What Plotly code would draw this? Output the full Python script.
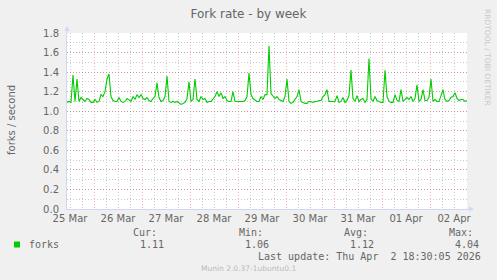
import pandas as pd
import plotly.graph_objects as go

# ---- data (forks per second, hourly readings) ----
start_time = "2026-03-25 10:30"
forks = [
    1.09, 1.10, 1.09, 1.37, 1.10, 1.33, 1.10, 1.14, 1.12, 1.10,
    1.13, 1.12, 1.09, 1.09, 1.12, 1.09, 1.10, 1.17, 1.15, 1.20,
    1.33, 1.38, 1.15, 1.11, 1.10, 1.10, 1.14, 1.10, 1.09, 1.10,
    1.13, 1.11, 1.10, 1.15, 1.12, 1.17, 1.14, 1.17, 1.13, 1.12,
    1.14, 1.11, 1.10, 1.13, 1.15, 1.29, 1.14, 1.10, 1.11, 1.15,
    1.36, 1.10, 1.09, 1.10, 1.09, 1.10, 1.08, 1.07, 1.08, 1.09,
    1.13, 1.30, 1.10, 1.12, 1.33, 1.12, 1.10, 1.15, 1.12, 1.13,
    1.09, 1.10, 1.10, 1.12, 1.15, 1.20, 1.15, 1.19, 1.13, 1.15,
    1.11, 1.10, 1.10, 1.20, 1.10, 1.10, 1.10, 1.10, 1.10, 1.11,
    1.15, 1.39, 1.17, 1.13, 1.11, 1.10, 1.10, 1.15, 1.12, 1.17,
    1.17, 1.67, 1.18, 1.15, 1.13, 1.15, 1.12, 1.11, 1.10, 1.15,
    1.33, 1.10, 1.08, 1.09, 1.12, 1.15, 1.22, 1.10, 1.09, 1.08,
    1.08, 1.10, 1.10, 1.09, 1.10, 1.10, 1.11, 1.11, 1.15, 1.17,
    1.22, 1.10, 1.10, 1.10, 1.10, 1.16, 1.09, 1.10, 1.14, 1.09,
    1.11, 1.16, 1.42, 1.13, 1.10, 1.16, 1.10, 1.12, 1.13, 1.09,
    1.12, 1.54, 1.13, 1.10, 1.15, 1.11, 1.10, 1.09, 1.09, 1.42,
    1.15, 1.10, 1.09, 1.09, 1.17, 1.11, 1.10, 1.22, 1.10, 1.12,
    1.14, 1.12, 1.15, 1.10, 1.13, 1.27, 1.10, 1.12, 1.22, 1.11,
    1.11, 1.14, 1.33, 1.10, 1.12, 1.10, 1.10, 1.16, 1.22, 1.12,
    1.10, 1.11, 1.14, 1.15, 1.19, 1.13, 1.11, 1.12, 1.12, 1.10,
    1.11,
]
y_ticks = [0.0, 0.2, 0.4, 0.6, 0.8, 1.0, 1.2, 1.4, 1.6, 1.8]
legend_heads = ["Cur:", "Min:", "Avg:", "Max:"]
legend_vals = ["1.11", "1.06", "1.12", "4.04"]
series_name = "forks"
title_text = "Fork rate - by week"
y_title = "forks / second"
last_update = "Last update: Thu Apr\u00a0 2 18:30:05 2026"
version_text = "Munin 2.0.37-1ubuntu0.1"
side_text = "RRDTOOL / TOBI OETIKER"

times = pd.date_range(start_time, periods=len(forks), freq="h")

# ---- layout geometry (pixels) ----
W, H = 497, 280
ML, MR, MT, MB = 67, 30, 33, 71
PW = W - ML - MR
PH = H - MT - MB

def px(x):
    return (x - ML) / PW

def py(y):
    return (H - MB - y) / PH

FONT = "DejaVu Sans"
MONO = "DejaVu Sans Mono"
FC = "#666666"
AXIS_C = "#CFD6F8"
MGRID = "rgba(225,110,110,0.5)"
GRID = "rgba(150,150,150,0.5)"

fig = go.Figure()
fig.add_trace(go.Scatter(
    x=times, y=forks, mode="lines", name=series_name,
    line=dict(color="#00CC00", width=1.1), hoverinfo="skip", showlegend=False,
))

fig.update_layout(
    width=W, height=H,
    margin=dict(l=ML, r=MR, t=MT, b=MB, pad=0),
    paper_bgcolor="#F0F0F0", plot_bgcolor="#FFFFFF",
    font=dict(family=FONT, size=10, color=FC),
    title=dict(text=title_text, x=0.5, xref="container", xanchor="center",
               y=1 - 14 / H, yref="container", yanchor="middle",
               font=dict(family=FONT, size=12, color=FC)),
    showlegend=False,
)

fig.update_xaxes(
    type="date",
    range=[times[0], times[-1]],
    tick0="2026-03-25 00:00", dtick=86400000,
    ticklabelmode="period", tickformat="%d %b",
    ticks="", showgrid=True, gridcolor=MGRID, griddash="1px,2px", gridwidth=1,
    minor=dict(tick0="2026-03-25 00:00", dtick=21600000, showgrid=True,
               gridcolor=GRID, griddash="1px,2px", gridwidth=1, ticks=""),
    showline=True, linecolor=AXIS_C, linewidth=1, zeroline=False,
    tickfont=dict(family=FONT, size=10, color=FC),
)
fig.update_yaxes(
    range=[0, 1.8], tickvals=y_ticks, tickformat=".1f",
    ticks="", ticklabelstandoff=5,
    showgrid=True, gridcolor=MGRID, griddash="1px,2px", gridwidth=1,
    minor=dict(dtick=0.1, tick0=0, showgrid=True, gridcolor=GRID,
               griddash="1px,2px", gridwidth=1, ticks=""),
    showline=True, linecolor=AXIS_C, linewidth=1, zeroline=False,
    tickfont=dict(family=FONT, size=10, color=FC),
)

ann = []
# axis arrows
ann.append(dict(x=px(474), y=0, xref="paper", yref="paper", text="", showarrow=True,
                ax=-9, ay=0, arrowhead=2, arrowsize=1, arrowwidth=1, arrowcolor=AXIS_C))
ann.append(dict(x=0, y=py(26), xref="paper", yref="paper", text="", showarrow=True,
                ax=0, ay=9, arrowhead=2, arrowsize=1, arrowwidth=1, arrowcolor=AXIS_C))
# y title
ann.append(dict(x=px(12), y=py(120), xref="paper", yref="paper", text=y_title,
                showarrow=False, textangle=-90, xanchor="center", yanchor="middle",
                font=dict(family=FONT, size=10, color=FC)))
# side text
ann.append(dict(x=px(488), y=py(57), xref="paper", yref="paper", text=side_text,
                showarrow=False, textangle=90, xanchor="center", yanchor="middle",
                font=dict(family=FONT, size=7.5, color="#C8C8C8")))
# legend headers and values
head_x = [131, 237, 342, 447]
val_x = [138, 243, 348, 453]
for hx, t in zip(head_x, legend_heads):
    ann.append(dict(x=px(hx), y=py(232.5), xref="paper", yref="paper", text=t,
                    showarrow=False, xanchor="left", yanchor="middle",
                    font=dict(family=MONO, size=10, color=FC)))
for vx, t in zip(val_x, legend_vals):
    ann.append(dict(x=px(vx), y=py(244.5), xref="paper", yref="paper", text=t,
                    showarrow=False, xanchor="left", yanchor="middle",
                    font=dict(family=MONO, size=10, color=FC)))
ann.append(dict(x=px(26.5), y=py(244.5), xref="paper", yref="paper", text=series_name,
                showarrow=False, xanchor="left", yanchor="middle",
                font=dict(family=MONO, size=10, color=FC)))
ann.append(dict(x=px(483), y=py(256.7), xref="paper", yref="paper", text=last_update,
                showarrow=False, xanchor="right", yanchor="middle",
                font=dict(family=MONO, size=10, color=FC)))
ann.append(dict(x=px(248), y=py(268.3), xref="paper", yref="paper", text=version_text,
                showarrow=False, xanchor="center", yanchor="middle",
                font=dict(family=FONT, size=7.5, color="#BBBBBB")))
fig.update_layout(annotations=ann)

# legend colour box
fig.add_shape(type="rect", xref="paper", yref="paper",
              x0=px(14), x1=px(20), y0=py(247.5), y1=py(241.5),
              fillcolor="#00CC00", line=dict(width=0))

fig.write_html("out.html")
